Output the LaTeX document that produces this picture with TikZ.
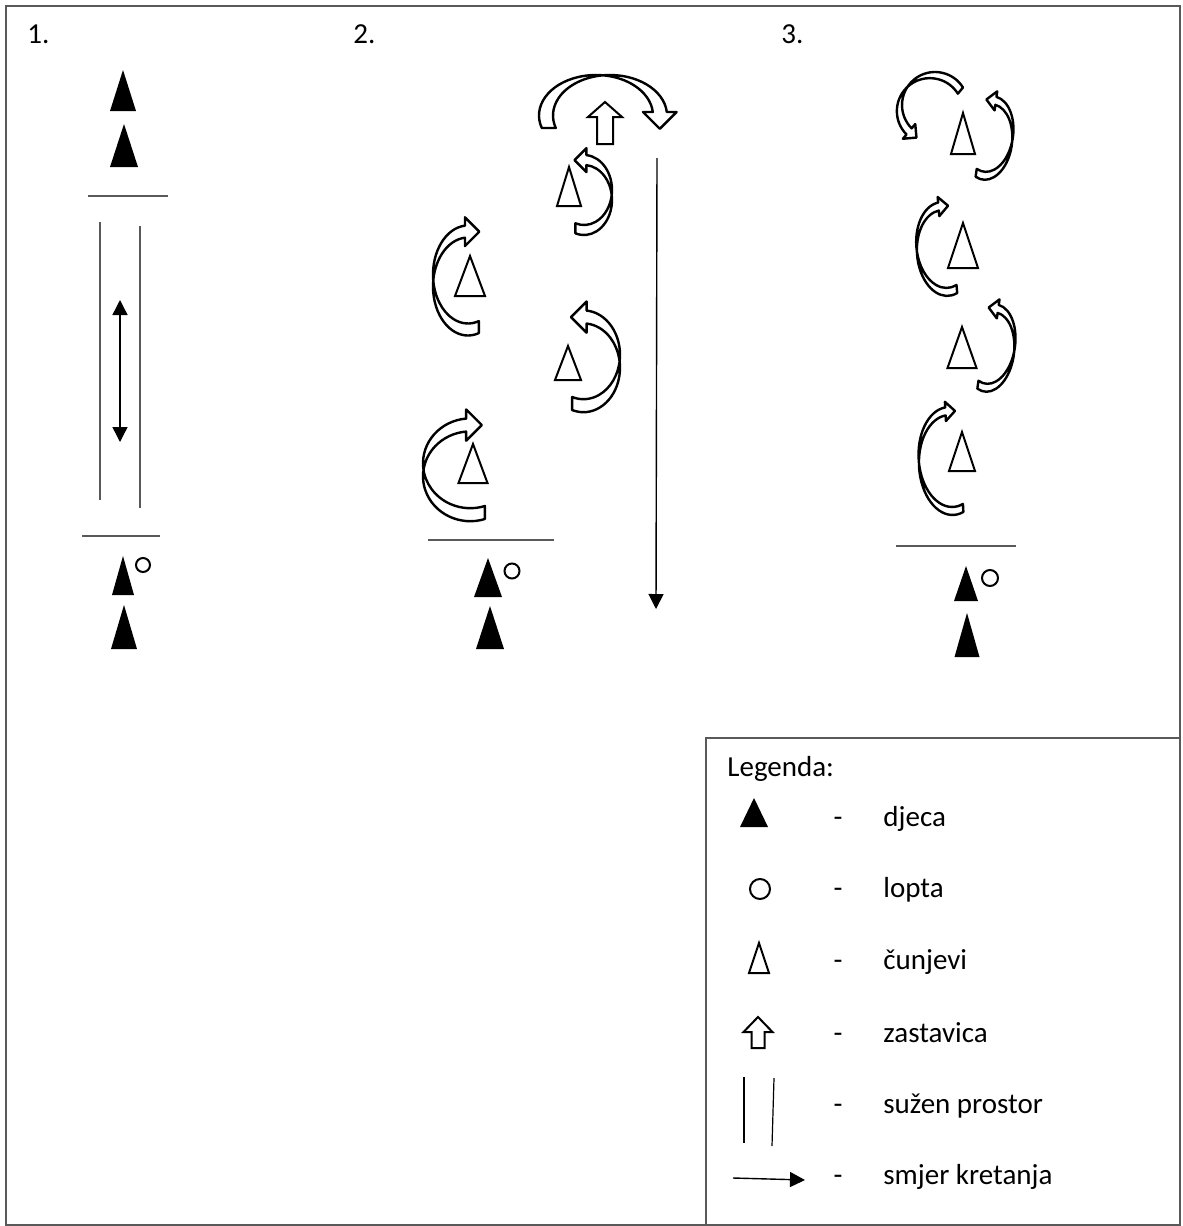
\documentclass[tikz,border=0pt]{standalone}
\usepackage{fontspec}
\setmainfont{Carlito}
\usetikzlibrary{arrows.meta}

% apex x, apex y, half width, height
\newcommand{\kidmark}[4]{\fill (#1,#2) -- ++(#3,#4) -- ++(-2*#3,0) -- cycle;}
\newcommand{\conemark}[4]{\draw[conedraw] (#1,#2) -- ++(#3,#4) -- ++(-2*#3,0) -- cycle;}
% tip x, tip y, head half, head height, shaft half, total height
\newcommand{\flagmark}[6]{\draw[conedraw] (#1,#2) -- ++(#3,#4) -- ++(#5-#3,0) -- ++(0,#6-#4)
  -- ++(-2*#5,0) -- ++(0,#4-#6) -- ++(#5-#3,0) -- cycle;}
% [turn] centre x, centre y, x radius, y radius, band
\newcommand{\curlarrow}[6][]{%
  \begin{scope}[shift={(#2,#3)},#1]
    \draw[ribbon] (72:#4 and #5)
      arc[start angle=72,end angle=265,x radius=#4,y radius=#5]
      -- ++(0,0.7*#6) -- ++(1.2*#6,-1.2*#6) -- ++(-1.2*#6,-1.2*#6) -- ++(0,0.7*#6)
      arc[start angle=265,end angle=72,x radius=#4,y radius=#5] -- cycle;
  \end{scope}}

\begin{document}
\begin{tikzpicture}
  [x=0.5pt,y=-0.5pt,
   txt/.style={font=\fontsize{14.5}{17}\selectfont,inner sep=0pt},
   border/.style={draw=black!65,line width=1pt},
   fieldline/.style={draw=black!65,line width=0.8pt},
   conedraw/.style={draw,line width=1pt,fill=white,line join=miter},
   ribbon/.style={draw,line width=1.2pt,fill=white,line join=round},
   ballstyle/.style={draw,line width=1pt},
   move/.style={draw,line width=0.7pt,-{Triangle[length=7.5pt,width=7.5pt]}}]
  \useasboundingbox (0,0) rectangle (1183,1226);
  \draw[border] (6,6) rectangle (1180,1225);

  \node[txt,anchor=base west] (lab1) at (27,43) {1.};
  \node[txt,anchor=base west] (lab2) at (353,43) {2.};
  \node[txt,anchor=base west] (lab3) at (781,43) {3.};

  % 1.
  \kidmark{123}{70}{13}{41}
  \kidmark{124}{124}{14}{43}
  \draw[fieldline] (88,196) -- (168,196);
  \draw[fieldline] (100,222) -- (100,500);
  \draw[fieldline] (140,226) -- (140,508);
  \coordinate (d1) at (120,300);
  \coordinate (d2) at (120,442);
  \draw[move,{Triangle[length=7.5pt,width=7.5pt]}-{Triangle[length=7.5pt,width=7.5pt]}] (d1) -- (d2);
  \draw[fieldline] (82,536) -- (160,536);
  \kidmark{123}{556}{11}{39}
  \draw[ballstyle] (143,565) circle[radius=7];
  \kidmark{124}{605}{13}{44}

  % 2.
  \curlarrow[rotate=-90]{596}{115.5}{40.5}{57}{14}
  \flagmark{605}{102}{17}{15}{8}{42}
  \coordinate (r1) at (657,158);
  \coordinate (r2) at (656,609);
  \draw[move] (r1) -- (r2);
  \conemark{569}{167}{12}{39}
  \curlarrow[xscale=-1]{584}{200}{28}{35}{10}
  \conemark{470}{256}{15}{40}
  \curlarrow{468}{286.5}{35}{49}{12}
  \conemark{568}{346}{13}{34}
  \curlarrow[xscale=-1]{583.4}{367.8}{36.6}{44.4}{13}
  \conemark{473}{444}{14.5}{39}
  \curlarrow{470.3}{476.3}{47.3}{44.9}{13}
  \draw[fieldline] (428,540) -- (554,540);
  \kidmark{488}{558}{14}{39}
  \draw[ballstyle] (512,571) circle[radius=7.5];
  \kidmark{490}{606}{14}{43}

  % 3.
  \curlarrow[rotate=140,xscale=-1]{935}{105}{33}{33}{8}
  \conemark{963}{113}{12}{41}
  \curlarrow[rotate=-8,xscale=-1]{988}{142}{24}{38}{8}
  \conemark{963}{223}{15}{45}
  \curlarrow[rotate=5]{945}{253}{28}{43}{8}
  \conemark{962}{327}{14.5}{41}
  \curlarrow[rotate=-8,xscale=-1]{990}{352}{24}{40}{8}
  \conemark{962}{432}{13}{39}
  \curlarrow[rotate=3]{951}{465}{32}{50}{8}
  \draw[fieldline] (896,546) -- (1016,546);
  \kidmark{966}{566}{12}{35}
  \draw[ballstyle] (990,578) circle[radius=8];
  \kidmark{967}{613}{12.5}{44}

  % legenda
  \draw[border] (706,1225) -- (706,738) -- (1180,738);
  \node[txt,anchor=base west] (leg) at (727,776) {Legenda:};
  \kidmark{754}{798}{14}{29}
  \draw[ballstyle] (760,889) circle[radius=10];
  \conemark{759}{943}{10}{30}
  \flagmark{758}{1017}{14.5}{15}{6.5}{31}
  \draw[line width=0.6pt] (744,1077) -- (744,1143);
  \draw[line width=0.6pt] (774,1078) -- (772,1146);
  \coordinate (s1) at (733,1178);
  \coordinate (s2) at (805,1180);
  \draw[move] (s1) -- (s2);
  \foreach \txt/\yy [count=\i] in {djeca/826,lopta/897,čunjevi/969,zastavica/1042,sužen prostor/1113,smjer kretanja/1184}{
    \node[txt,anchor=base] (dash\i) at (838,\yy) {-};
    \node[txt,anchor=base west] (item\i) at (883,\yy) {\txt};
  }
\end{tikzpicture}
\end{document}
